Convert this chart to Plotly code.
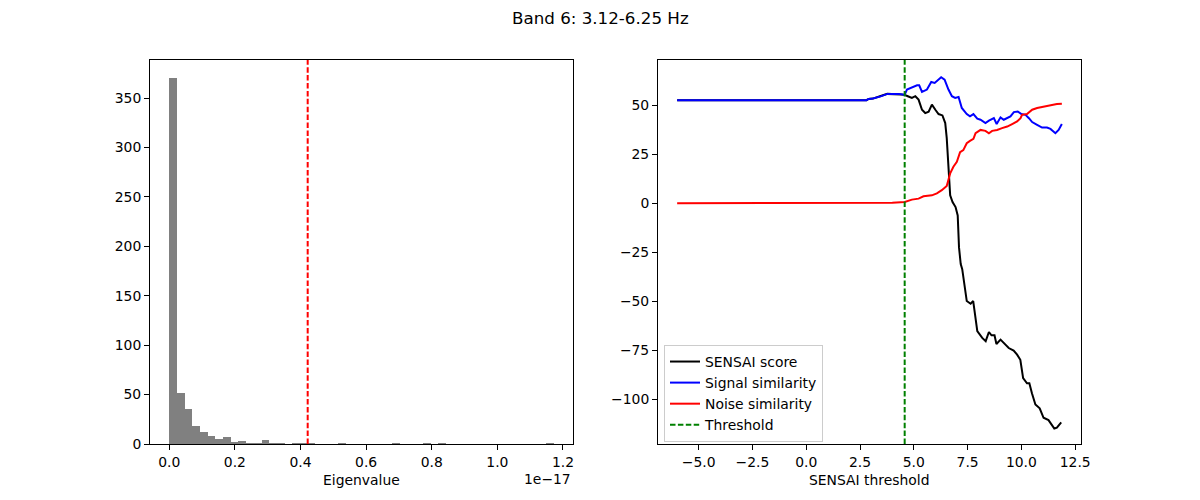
import plotly.graph_objects as go

# ---------------- data ----------------
title_text = "Band 6: 3.12-6.25 Hz"

# Eigenvalue histogram: 50 equal bins between these limits, counts
eig_lo = 0.0
eig_hi = 1.172e-17
eig_counts = [370, 52, 35, 18, 12, 8, 5, 7, 2, 3,
              1, 1, 4, 1, 1, 0, 1, 1, 1, 0,
              0, 0, 1, 0, 0, 0, 0, 0, 0, 1,
              0, 0, 0, 1, 0, 1, 0, 0, 0, 0,
              0, 0, 0, 0, 0, 0, 0, 0, 0, 1]
eig_threshold = 0.422e-17
eig_ticks = [0.0, 0.2, 0.4, 0.6, 0.8, 1.0, 1.2]   # in units of 1e-17
hist_yticks = [0, 50, 100, 150, 200, 250, 300, 350]

# SENSAI curves
sensai_threshold = 4.575

score_x = [-6.0, 2.8, 2.9, 3.1, 3.46, 3.77, 4.4, 4.58, 4.72, 4.91, 5.07, 5.22, 5.38, 5.53,
           5.69, 5.84, 6.0, 6.15, 6.33, 6.46, 6.53, 6.61, 6.69, 6.8, 6.94, 7.04, 7.1, 7.18,
           7.25, 7.46, 7.64, 7.76, 7.95, 8.18, 8.34, 8.49, 8.61, 8.75, 8.84, 9.03, 9.26,
           9.41, 9.64, 9.8, 9.95, 10.08, 10.26, 10.37, 10.49, 10.65, 10.85, 11.03, 11.26,
           11.53, 11.65, 11.85]
score_y = [52.7, 52.7, 53.3, 53.5, 54.8, 55.9, 55.6, 55.4, 54.7, 53.8, 54.7, 53.0, 47.8, 46.1,
           46.8, 50.4, 47.8, 45.6, 44.9, 41.0, 33.3, 19.5, 4.1, 0.7, -1.9, -6.2, -22.5, -31.0,
           -33.6, -49.9, -51.3, -49.9, -65.3, -68.7, -70.4, -65.7, -67.4, -67.4, -71.8, -69.6,
           -72.1, -73.9, -75.2, -77.3, -79.9, -89.3, -91.9, -91.9, -97.0, -102.7, -104.7,
           -109.5, -110.7, -115.0, -114.6, -111.9]

signal_x = [-6.0, 2.8, 2.9, 3.1, 3.46, 3.77, 4.29, 4.57, 4.68, 4.91, 5.15, 5.25, 5.38, 5.61,
            5.81, 5.97, 6.07, 6.27, 6.43, 6.61, 6.77, 6.92, 7.08, 7.23, 7.46, 7.61, 7.77, 7.95,
            8.1, 8.33, 8.49, 8.72, 8.85, 9.03, 9.18, 9.34, 9.49, 9.65, 9.83, 10.0, 10.19,
            10.35, 10.5, 10.73, 10.96, 11.19, 11.35, 11.58, 11.73, 11.88]
signal_y = [52.7, 52.7, 53.3, 53.5, 54.6, 55.9, 55.9, 55.4, 58.1, 59.3, 60.3, 60.3, 56.9, 58.1,
            62.0, 61.5, 62.4, 64.4, 63.2, 58.1, 54.7, 53.8, 54.3, 48.7, 45.6, 44.4, 45.6, 43.2,
            42.7, 41.0, 42.2, 43.5, 40.5, 43.9, 42.7, 43.5, 44.4, 46.6, 46.9, 45.6, 45.2,
            43.5, 41.5, 40.1, 38.7, 38.7, 38.0, 35.8, 37.5, 40.5]

noise_x = [-6.0, 3.3, 4.0, 4.58, 4.68, 4.91, 5.22, 5.45, 5.84, 6.07, 6.3, 6.53, 6.69, 6.84,
           7.0, 7.15, 7.3, 7.46, 7.61, 7.77, 7.87, 8.1, 8.33, 8.49, 8.64, 8.87, 9.1, 9.34,
           9.57, 9.8, 9.96, 10.03, 10.26, 10.5, 10.73, 11.04, 11.35, 11.65, 11.88]
noise_y = [0.0, 0.0, 0.3, 0.7, 1.0, 1.9, 2.4, 3.6, 4.1, 5.1, 6.7, 8.9, 15.3, 18.7,
           21.2, 26.1, 27.2, 30.7, 31.9, 32.9, 35.8, 37.5, 37.0, 35.8, 37.0, 37.5, 38.4, 39.2,
           40.5, 41.8, 43.5, 45.2, 45.6, 47.8, 48.7, 49.5, 50.0, 50.7, 50.9]

sensai_xticks = [-5.0, -2.5, 0.0, 2.5, 5.0, 7.5, 10.0, 12.5]
sensai_yticks = [-100, -75, -50, -25, 0, 25, 50]

# ---------------- figure ----------------
FONT = "DejaVu Sans"
TICK_PX = 13.9
scale = 1e17
n_bins = len(eig_counts)
bw = (eig_hi - eig_lo) / n_bins
centers = [(eig_lo + (i + 0.5) * bw) * scale for i in range(n_bins)]

fig = go.Figure()

fig.add_trace(go.Bar(
    x=centers, y=eig_counts, width=[bw * scale] * n_bins,
    marker=dict(color="#808080", line=dict(width=0)),
    xaxis="x", yaxis="y", showlegend=False, hoverinfo="skip"))

dash = "5.5px,2.4px"
fig.add_trace(go.Scatter(x=score_x, y=score_y, mode="lines", name="SENSAI score",
                         line=dict(color="black", width=2), xaxis="x2", yaxis="y2"))
fig.add_trace(go.Scatter(x=signal_x, y=signal_y, mode="lines", name="Signal similarity",
                         line=dict(color="#0000ff", width=2), xaxis="x2", yaxis="y2"))
fig.add_trace(go.Scatter(x=noise_x, y=noise_y, mode="lines", name="Noise similarity",
                         line=dict(color="#ff0000", width=2), xaxis="x2", yaxis="y2"))
y2_range = [-122.9, 73.2]
fig.add_trace(go.Scatter(x=[sensai_threshold, sensai_threshold], y=y2_range, mode="lines",
                         name="Threshold", line=dict(color="#008000", width=2, dash=dash),
                         xaxis="x2", yaxis="y2"))

# red threshold line on histogram
fig.add_shape(type="line", xref="x", yref="y domain",
              x0=eig_threshold * scale, x1=eig_threshold * scale, y0=0, y1=1,
              line=dict(color="#ff0000", width=2, dash=dash))

axis_common = dict(showline=True, linecolor="black", linewidth=1, mirror=True,
                   ticks="outside", ticklen=5, tickwidth=1, tickcolor="black",
                   showgrid=False, zeroline=False, automargin=False,
                   tickfont=dict(family=FONT, size=TICK_PX, color="black"))

y_dom = [1 - 444 / 500, 1 - 60 / 500]
n_hi = eig_hi * scale
pad = 0.05 * (n_hi - eig_lo * scale)
fig.update_layout(
    width=1200, height=500,
    margin=dict(l=0, r=0, t=0, b=0, autoexpand=False),
    paper_bgcolor="white", plot_bgcolor="white",
    bargap=0,
    font=dict(family=FONT, size=TICK_PX, color="black"),
    xaxis=dict(domain=[150 / 1200, 573 / 1200], anchor="y",
               range=[eig_lo * scale - pad, n_hi + pad],
               tickvals=eig_ticks, ticktext=[f"{v:.1f}" for v in eig_ticks], **axis_common),
    yaxis=dict(domain=y_dom, anchor="x", range=[0, max(eig_counts) * 1.05],
               tickvals=hist_yticks, **axis_common),
    xaxis2=dict(domain=[658 / 1200, 1081 / 1200], anchor="y2", range=[-6.89, 12.77],
                tickvals=sensai_xticks, ticktext=[f"{v:.1f}".replace("-", "\u2212") for v in sensai_xticks],
                **axis_common),
    yaxis2=dict(domain=y_dom, anchor="x2", range=y2_range,
                tickvals=sensai_yticks,
                ticktext=[str(v).replace("-", "\u2212") for v in sensai_yticks], **axis_common),
    legend=dict(x=664 / 1200, y=1 - 345 / 500, xanchor="left", yanchor="top",
                bgcolor="rgba(255,255,255,0.8)", bordercolor="#cccccc", borderwidth=1,
                font=dict(family=FONT, size=TICK_PX, color="black"),
                tracegroupgap=0),
    showlegend=True,
)

fig.add_annotation(text=title_text, xref="paper", yref="paper", x=0.5, y=1 - 18 / 500,
                   xanchor="center", yanchor="middle", showarrow=False,
                   font=dict(family=FONT, size=16.7, color="black"))
fig.add_annotation(text="Eigenvalue", xref="paper", yref="paper", x=361.5 / 1200, y=1 - 480 / 500,
                   xanchor="center", yanchor="middle", showarrow=False,
                   font=dict(family=FONT, size=TICK_PX, color="black"))
fig.add_annotation(text="1e\u221217", xref="paper", yref="paper", x=573 / 1200, y=1 - 479 / 500,
                   xanchor="right", yanchor="middle", showarrow=False,
                   font=dict(family=FONT, size=TICK_PX, color="black"))
fig.add_annotation(text="SENSAI threshold", xref="paper", yref="paper", x=869.5 / 1200, y=1 - 480 / 500,
                   xanchor="center", yanchor="middle", showarrow=False,
                   font=dict(family=FONT, size=TICK_PX, color="black"))

fig.write_html("out.html")
